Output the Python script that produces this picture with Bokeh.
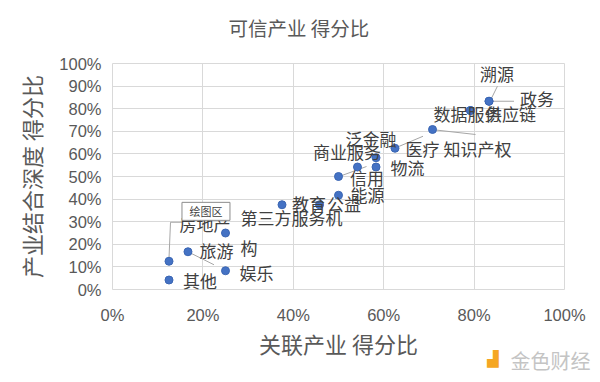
from bokeh.plotting import figure
from bokeh.models import ColumnDataSource, FixedTicker, Range1d, Title
from bokeh.embed import file_html
from bokeh.resources import INLINE
from bokeh.core.properties import value

# ---------------- data ----------------
title_text = "可信产业 得分比"
x_title = "关联产业 得分比"
y_title = "产业结合深度 得分比"

industries = ["溯源", "政务", "数据服务", "供应链", "知识产权", "医疗", "泛金融", "物流",
              "信用", "商业服务", "能源", "公益", "教育", "第三方服务机\n构", "房地产",
              "旅游", "娱乐", "其他"]
related_score = [0.833, 0.833, 0.792, 0.792, 0.708, 0.625, 0.583, 0.583,
                 0.542, 0.500, 0.500, 0.458, 0.375, 0.250, 0.125,
                 0.167, 0.250, 0.125]
depth_score = [0.833, 0.833, 0.792, 0.792, 0.708, 0.625, 0.583, 0.542,
               0.542, 0.500, 0.417, 0.375, 0.375, 0.250, 0.125,
               0.167, 0.083, 0.042]

x_ticks = [0.0, 0.2, 0.4, 0.6, 0.8, 1.0]
x_tick_labels = ["0%", "20%", "40%", "60%", "80%", "100%"]
y_ticks = [0.0, 0.1, 0.2, 0.3, 0.4, 0.5, 0.6, 0.7, 0.8, 0.9, 1.0]
y_tick_labels = ["0%", "10%", "20%", "30%", "40%", "50%", "60%", "70%", "80%", "90%", "100%"]

watermark = "金色财经"
watermark_logo = "▟"

# ---------------- label placement (screen px offsets from each point) ----------------
label_dx = [8, 48, -3, 40, 45, 27.5, -5, 31.5, 9.5, 8.5, 29, 24.5, 27, 15, 36, 28.5, 31, 31]
label_dy = [-27.5, -2.5, 2.7, 2.7, 18.7, 0.7, -19, 0, 10, -25, -1, -1, -1, -0.5, -38, -1, 1.7, 0]
label_align = ["center"] * 13 + ["left"] + ["center"] * 4

# leader lines: (point index, [(dx, dy), ...]) in screen px from the point
leaders = [
    (0, [(2, -2), (8.4, -15)]),
    (1, [(4, 0), (25, 0)]),
    (4, [(3, 0.5), (43, 5)]),
    (5, [(2, -1), (28, -12)]),
    (9, [(2, -0.5), (28, -10)]),
    (14, [(0, -3), (1.5, -39), (13, -39)]),
    (15, [(2, 1), (26, 13)]),
]

W, H = 600, 382
BL, BR, BT, BB = 112, 36, 63, 93
FW, FH = W - BL - BR, H - BT - BB

p = figure(width=W, height=H, x_range=Range1d(0, 1), y_range=Range1d(0, 1),
           output_backend="svg", toolbar_location=None,
           min_border_left=BL, min_border_right=BR, min_border_top=BT, min_border_bottom=BB)
p.background_fill_color = "white"
p.border_fill_color = "white"
p.outline_line_color = "#d9d9d9"

# chart title, centred on the whole chart (a blank second line lifts it up)
p.add_layout(Title(text=title_text + "\n ", align="left", offset=116, standoff=-14,
                   text_font="Noto Sans CJK SC", text_font_size="19.5px",
                   text_font_style="normal", text_color="#595959"), "above")

p.xaxis.ticker = FixedTicker(ticks=x_ticks)
p.yaxis.ticker = FixedTicker(ticks=y_ticks)
p.xaxis.major_label_overrides = dict(zip(x_ticks, x_tick_labels))
p.yaxis.major_label_overrides = dict(zip(y_ticks, y_tick_labels))
p.xgrid.ticker = FixedTicker(ticks=x_ticks)
p.ygrid.ticker = FixedTicker(ticks=y_ticks)
p.grid.grid_line_color = "#d9d9d9"

p.axis.axis_line_color = None
p.axis.major_tick_line_color = None
p.axis.minor_tick_line_color = None
p.axis.major_tick_in = 0
p.axis.major_tick_out = 0
p.axis.major_label_text_font = "Liberation Sans"
p.axis.major_label_text_font_size = "16.5px"
p.axis.major_label_text_color = "#595959"
p.xaxis.major_label_standoff = 16
p.yaxis.major_label_standoff = 11
p.xaxis.axis_label = x_title
p.yaxis.axis_label = y_title
p.axis.axis_label_text_font = "Noto Sans CJK SC"
p.axis.axis_label_text_font_size = "22px"
p.axis.axis_label_text_font_style = "normal"
p.axis.axis_label_text_color = "#595959"
p.xaxis.axis_label_standoff = 0
p.yaxis.axis_label_standoff = 9

# leader lines
lx, ly = [], []
for idx, pts in leaders:
    x0, y0 = related_score[idx], depth_score[idx]
    lx.append([x0 + dx / FW for dx, dy in pts])
    ly.append([y0 - dy / FH for dx, dy in pts])
p.multi_line(lx, ly, line_color="#a6a6a6", line_width=1)

src = ColumnDataSource(dict(x=related_score, y=depth_score, name=industries,
                            dx=label_dx, dy=label_dy, align=label_align))
p.scatter("x", "y", source=src, size=8, fill_color="#4472C4", line_color="#3b66b3")
p.text("x", "y", text="name", source=src, x_offset="dx", y_offset="dy",
       text_align="align", text_baseline="middle",
       text_font=value("Noto Sans CJK SC"), text_font_size="17px", text_color="#404040")

# hover tooltip artefact from the screenshot ("绘图区")
tip_x, tip_y = 0.2068, 0.3458
p.rect([tip_x], [tip_y], width=48, height=18, width_units="screen", height_units="screen",
       fill_color="white", line_color="#8c8c8c")
p.text([tip_x], [tip_y], text=["绘图区"], text_align="center", text_baseline="middle",
       text_font=value("Noto Sans CJK SC"), text_font_size="11px", text_color="#404040")

# watermark (logo glyph + text) at the bottom right
logo = Title(text=watermark_logo + "\n ", align="right", offset=66, standoff=-28.5,
             text_font="DejaVu Sans", text_font_size="15px",
             text_font_style="normal", text_color="#f5a623")
p.add_layout(logo, "below")
wm = Title(text=watermark + "\n ", align="right", offset=-26, standoff=-55.4,
           text_font="Noto Sans CJK SC", text_font_size="20px",
           text_font_style="normal", text_color="#c4c4c4")
p.add_layout(wm, "below")

open("out.html", "w").write(file_html(p, INLINE))
